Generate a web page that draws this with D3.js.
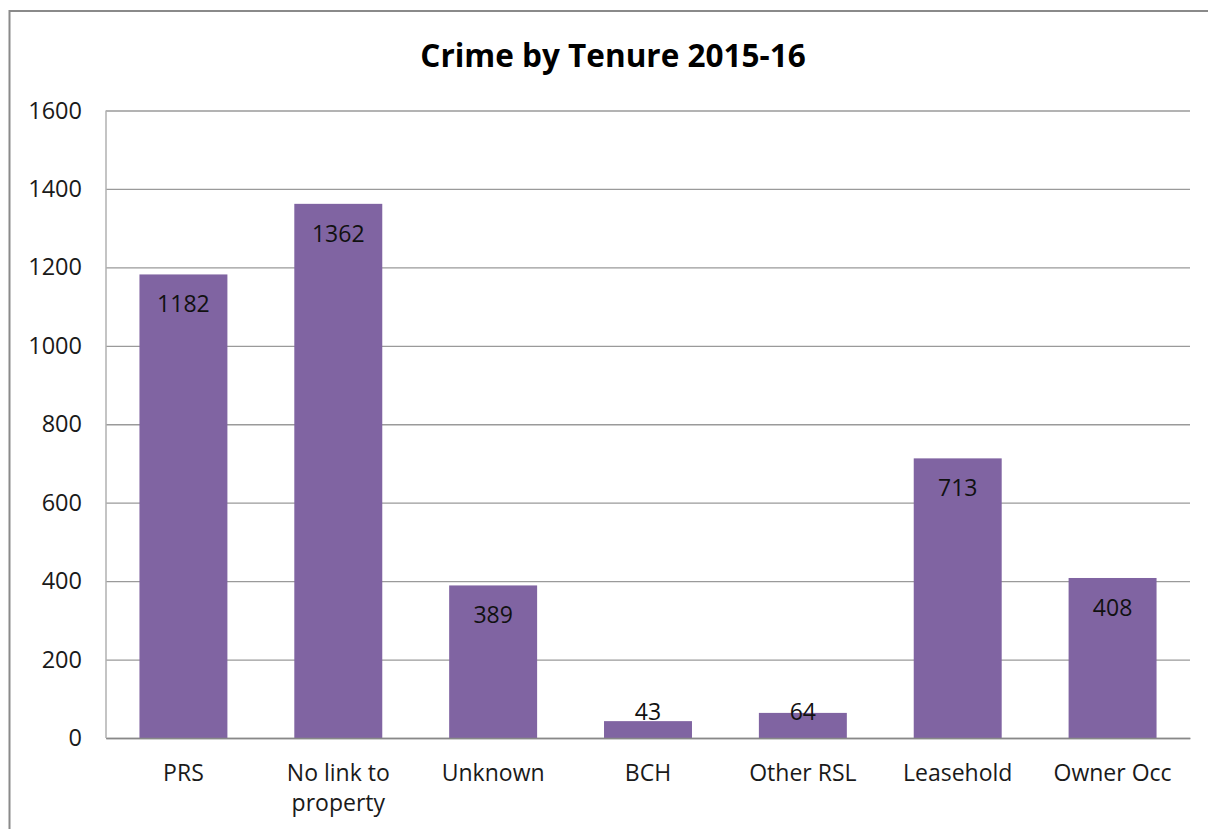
<!DOCTYPE html>
<html>
<head>
<meta charset="utf-8">
<script src="https://cdn.jsdelivr.net/npm/d3@7"></script>
<style>
  html, body { margin: 0; padding: 0; background: #fff; }
  svg { display: block; font-family: "Open Sans", "Noto Sans", sans-serif; }
</style>
</head>
<body>
<svg id="chart" width="1208" height="829"></svg>
<script>
// Crime counts by tenure type, 2015-16
const categories = ["PRS", "No link to property", "Unknown", "BCH", "Other RSL", "Leasehold", "Owner Occ"];
const crimes = [1182, 1362, 389, 43, 64, 713, 408];
const yTicks = [0, 200, 400, 600, 800, 1000, 1200, 1400, 1600];
const title = "Crime by Tenure 2015-16";

const svg = d3.select("#chart");
const plot = { left: 106, top: 110.5, right: 1190, bottom: 738 };

// Outer chart frame (runs past the right and bottom edges of the page)
svg.append("rect")
  .attr("x", 9.5).attr("y", 11)
  .attr("width", 1230).attr("height", 840)
  .attr("fill", "#fff")
  .attr("stroke", "#8a8a8a")
  .attr("stroke-width", 2);

svg.append("text")
  .attr("x", 613).attr("y", 67)
  .attr("text-anchor", "middle")
  .attr("font-size", 31.5)
  .attr("font-weight", "bold")
  .attr("fill", "#000")
  .text(title);

const x = d3.scaleBand()
  .domain(categories)
  .range([plot.left, plot.right])
  .paddingInner(0.432)
  .paddingOuter(0.216);

const y = d3.scaleLinear()
  .domain([0, 1600])
  .range([plot.bottom, plot.top]);

// Horizontal gridlines and value labels on the left
const yAxis = d3.axisLeft(y)
  .tickValues(yTicks)
  .tickSize(-(plot.right - plot.left))
  .tickPadding(24)
  .tickFormat(d3.format("d"));

const gy = svg.append("g")
  .attr("transform", `translate(${plot.left},0)`)
  .call(yAxis);
gy.select(".domain").remove();
gy.selectAll(".tick line")
  .attr("stroke", "#9a9a9a")
  .attr("stroke-width", 1.3);
gy.selectAll(".tick text")
  .attr("font-size", 23.5)
  .attr("font-family", "'Open Sans', sans-serif")
  .attr("fill", "#1a1a1a");

// Vertical axis line
svg.append("line")
  .attr("x1", plot.left).attr("x2", plot.left)
  .attr("y1", plot.top).attr("y2", plot.bottom)
  .attr("stroke", "#b0b0b0")
  .attr("stroke-width", 1.5);

// Bars
svg.append("g")
  .selectAll("rect")
  .data(categories)
  .join("rect")
  .attr("x", (d) => x(d))
  .attr("width", x.bandwidth())
  .attr("y", (d, i) => y(crimes[i]))
  .attr("height", (d, i) => y(0) - y(crimes[i]))
  .attr("fill", "#8064a2");

// Category axis along the bottom
const xAxis = d3.axisBottom(x).tickSize(0).tickPadding(27);
const gx = svg.append("g")
  .attr("transform", `translate(0,${plot.bottom})`)
  .call(xAxis);
gx.select(".domain")
  .attr("stroke", "#888")
  .attr("stroke-width", 1.5);
gx.selectAll(".tick text")
  .attr("font-size", 23)
  .attr("font-family", "'Open Sans', sans-serif")
  .attr("fill", "#1a1a1a")
  .call(wrap, x.step() * 0.92);

// Value labels just inside the top of each bar, kept above the axis
svg.append("g")
  .selectAll("text")
  .data(categories)
  .join("text")
  .attr("x", (d) => x(d) + x.bandwidth() / 2)
  .attr("y", (d, i) => Math.min(y(crimes[i]) + 38, y(0) - 18.5))
  .attr("text-anchor", "middle")
  .attr("font-size", 23)
  .attr("fill", "#111")
  .text((d, i) => crimes[i]);

function wrap(texts, width) {
  texts.each(function () {
    const text = d3.select(this);
    const words = text.text().split(/\s+/);
    const yAttr = text.attr("y");
    const dy = parseFloat(text.attr("dy")) || 0;
    text.text(null);
    let line = [];
    let lineNo = 0;
    let tspan = text.append("tspan").attr("x", 0).attr("y", yAttr).attr("dy", dy + "em");
    for (const word of words) {
      line.push(word);
      tspan.text(line.join(" "));
      if (tspan.node().getComputedTextLength() > width && line.length > 1) {
        line.pop();
        tspan.text(line.join(" "));
        line = [word];
        lineNo += 1;
        tspan = text.append("tspan")
          .attr("x", 0).attr("y", yAttr)
          .attr("dy", (dy + lineNo * 1.3) + "em")
          .text(word);
      }
    }
  });
}
</script>
</body>
</html>
